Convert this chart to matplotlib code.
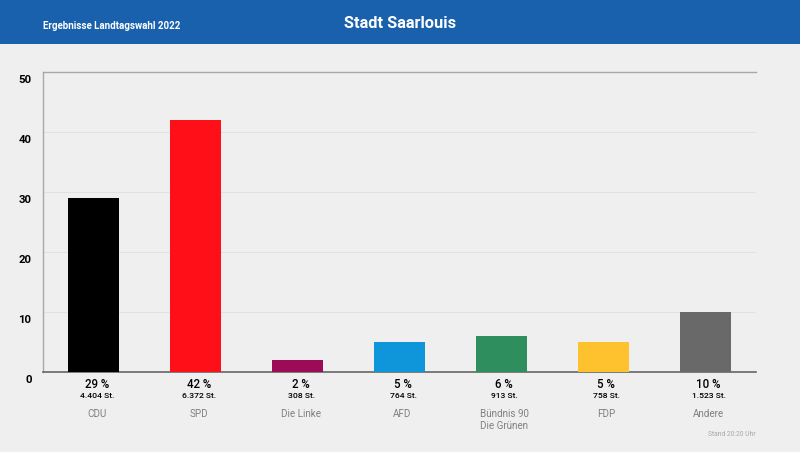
import matplotlib
matplotlib.use('Agg')
import matplotlib.pyplot as plt
from matplotlib.patches import Rectangle

parties = ['CDU', 'SPD', 'Die Linke', 'AFD', 'Bündnis 90\nDie Grünen', 'FDP', 'Andere']
percent = [29, 42, 2, 5, 6, 5, 10]
votes = ['4.404 St.', '6.372 St.', '308 St.', '764 St.', '913 St.', '758 St.', '1.523 St.']
colors = ['#000000', '#ff1018', '#9c0a58', '#0e95da', '#2f8e5e', '#ffc22f', '#696969']
yticks = [0, 10, 20, 30, 40, 50]

plt.rcParams['font.family'] = 'Roboto'

W, H = 800, 452
fig = plt.figure(figsize=((W + 0.01) / 100, (H + 0.01) / 100), dpi=100, facecolor='#efefef')

# blue header
fig.add_artist(Rectangle((0, 1 - 44 / H), 1, 44 / H, transform=fig.transFigure, color='#1a61ad', lw=0))
fig.text(43 / W, 1 - 26 / H, 'Ergebnisse Landtagswahl 2022', color='white', fontsize=7.0,
         fontweight='bold', ha='left', va='center')
fig.text(400 / W, 1 - 23 / H, 'Stadt Saarlouis', color='white', fontsize=11.8,
         fontweight='bold', ha='center', va='center')

ax = fig.add_axes([43 / W, 1 - 372 / H, 713 / W, 300 / H], facecolor='#efefef')
x = range(len(parties))
ax.bar(x, percent, width=0.5, color=colors, zorder=3)
ax.set_xlim(-0.5, 6.5)
ax.set_ylim(0, 50)

ax.set_yticks(yticks)
ax.set_xticks([])
ax.tick_params(axis='y', length=0, labelleft=False)
ax.grid(axis='y', color='#e2e2e2', lw=0.8, zorder=0)
ax.spines['right'].set_visible(False)
for s in ['top', 'left']:
    ax.spines[s].set_color('#a8a8a8')
    ax.spines[s].set_linewidth(1)
ax.spines['bottom'].set_color('#666666')
ax.spines['bottom'].set_linewidth(1.2)

# y labels sit a bit below their grid lines
for t in yticks:
    ax.annotate(str(t), (0, t), xycoords=('axes fraction', 'data'), xytext=(-11.5, -8),
                textcoords='offset pixels', ha='right', va='center',
                fontsize=8.2, fontweight='bold', color='black')

for i in x:
    ax.annotate(f'{percent[i]} %', (i, 0), xycoords=('data', 'axes fraction'), xytext=(3, -12),
                textcoords='offset pixels', ha='center', va='center', fontsize=8.3,
                fontweight='medium', color='black')
    ax.annotate(votes[i], (i, 0), xycoords=('data', 'axes fraction'), xytext=(3.5, -24),
                textcoords='offset pixels', ha='center', va='center', fontsize=6.1,
                fontweight='medium', color='black')
    ax.annotate(parties[i], (i, 0), xycoords=('data', 'axes fraction'), xytext=(3, -37),
                textcoords='offset pixels', ha='center', va='top', fontsize=7.1,
                color='#808080', linespacing=1.3)

fig.text(756 / W, 1 - 434 / H, 'Stand 20:20 Uhr', color='#a8a8a8', fontsize=4.9, ha='right', va='center')

fig.savefig('out.png', dpi=100, facecolor=fig.get_facecolor())
